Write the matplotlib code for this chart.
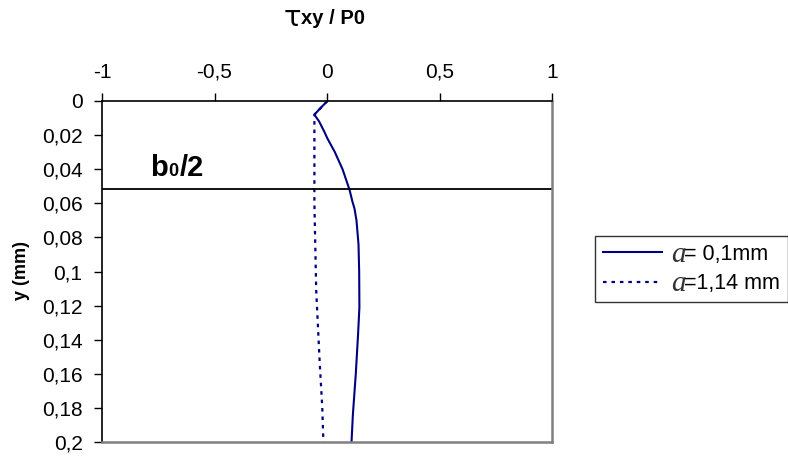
import numpy as np
import matplotlib.pyplot as plt
from matplotlib.ticker import FuncFormatter

plt.rcParams['font.family'] = ['Liberation Sans', 'DejaVu Sans']

# data
y_small = [0.0, 0.004, 0.008, 0.012, 0.018, 0.022, 0.030, 0.040, 0.052, 0.059, 0.063, 0.070,
           0.084, 0.100, 0.121, 0.137, 0.160, 0.184, 0.200]
tau_small = [0.002, -0.028, -0.056, -0.035, -0.012, 0.002, 0.035, 0.069, 0.100, 0.113, 0.122, 0.131,
             0.140, 0.143, 0.144, 0.138, 0.128, 0.115, 0.109]
y_big = [0.0, 0.008, 0.060, 0.111, 0.152, 0.180, 0.200]
tau_big = [0.002, -0.056, -0.056, -0.048, -0.033, -0.021, -0.016]
b0_half = 0.0516
label_small = "= 0,1mm"
label_big = "=1,14 mm"

navy = '#000080'

fig = plt.figure(figsize=(7.88, 4.59), dpi=100)
ax = fig.add_axes([102 / 788, 1 - 442 / 459, 450 / 788, 341 / 459])

ax.plot(tau_small, y_small, color=navy, lw=1.5, label=label_small)
ax.plot(tau_big, y_big, color=navy, lw=1.6, linestyle=(0, (1.6, 2.2)), label=label_big)
ax.axhline(b0_half, color='black', lw=1.3)

ax.set_xlim(-1, 1)
ax.set_ylim(0.2, 0)
ax.set_xticks([-1, -0.5, 0, 0.5, 1])
ax.set_yticks(np.arange(0, 0.2001, 0.02))

def comma_fmt(v, pos):
    s = ('%.2f' % v).rstrip('0').rstrip('.')
    if s in ('-0', ''):
        s = '0'
    return s.replace('.', ',')

ax.xaxis.set_major_formatter(FuncFormatter(comma_fmt))
ax.yaxis.set_major_formatter(FuncFormatter(comma_fmt))
ax.xaxis.tick_top()
ax.tick_params(axis='x', direction='out', length=6, width=1, pad=8, labelsize=15)
ax.tick_params(axis='y', direction='out', length=6, width=1, pad=8, labelsize=15)

for side in ('left', 'top'):
    ax.spines[side].set_color('black')
    ax.spines[side].set_linewidth(1.2)
for side in ('right', 'bottom'):
    ax.spines[side].set_color('#808080')
    ax.spines[side].set_linewidth(1.8)

# b0/2 label with small baseline "0"
ax.text(-0.785, b0_half - 0.0075, "b", fontsize=21, fontweight='bold', ha='left', va='baseline')
ax.text(-0.705, b0_half - 0.0075, "0", fontsize=13, fontweight='bold', ha='left', va='baseline')
ax.text(-0.655, b0_half - 0.0075, "/2", fontsize=21, fontweight='bold', ha='left', va='baseline')

fig.text(301 / 788, 1 - 18 / 459, u"\u03c4", fontsize=21, family='DejaVu Sans',
         ha='right', va='center')
fig.text(301 / 788, 1 - 19 / 459, "xy / P0", fontsize=14.5, fontweight='bold', ha='left', va='center')
fig.text(22 / 788, 1 - 270 / 459, "y (mm)", fontsize=13, fontweight='bold', rotation=90,
         ha='center', va='center')

leg = ax.legend(loc='center left', bbox_to_anchor=(595 / 788, 1 - 269 / 459),
                bbox_transform=fig.transFigure, frameon=True, fancybox=False,
                fontsize=15.5, handlelength=2.75, handletextpad=1.05, borderpad=0.35,
                labelspacing=0.4, borderaxespad=0)
leg.get_frame().set_edgecolor('black')
leg.get_frame().set_linewidth(1.0)

# larger italic "a" in front of each legend entry
fig.canvas.draw()
for t in leg.get_texts():
    bb = t.get_window_extent()
    fig.text(bb.x0 + 1, bb.y0 + 3, "a", fontsize=21, family='Liberation Serif', style='italic',
             color='#333333', ha='right', va='baseline', transform=None)

fig.savefig('out.png', dpi=100)
